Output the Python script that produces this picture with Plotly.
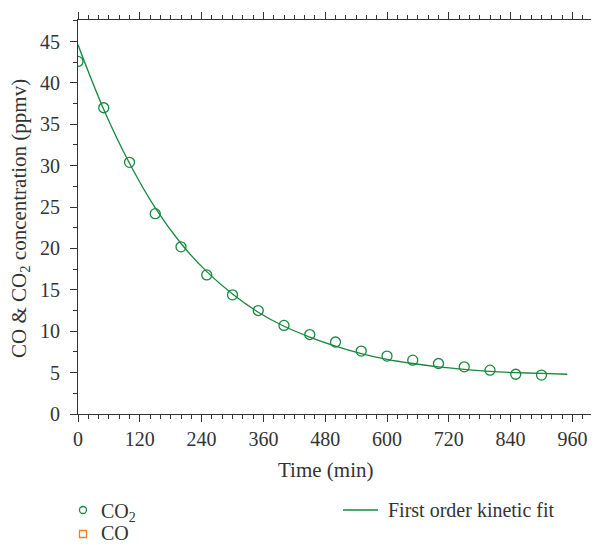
import plotly.graph_objects as go

# Measured data (CO2)
time_pts = [0, 50, 100, 150, 200, 250, 300, 350, 400, 450, 500, 550, 600, 650, 700, 750, 800, 850, 900]
co2_vals = [42.6, 37.0, 30.4, 24.2, 20.2, 16.8, 14.4, 12.5, 10.7, 9.6, 8.7, 7.6, 7.0, 6.5, 6.1, 5.7, 5.3, 4.8, 4.7]

# CO series (no visible data in the chart)
co_time = [None]
co_vals = [None]

# First order kinetic fit curve
fit_time = [0, 50, 100, 150, 200, 250, 300, 350, 400, 450, 500, 550, 600, 650, 700, 750, 800, 850, 900, 950]
fit_vals = [44.6, 36.8, 30.3, 24.9, 20.6, 17.2, 14.5, 12.3, 10.6, 9.3, 8.2, 7.3, 6.6, 6.1, 5.7, 5.4, 5.15, 5.0, 4.9, 4.8]

x_ticks = [0, 120, 240, 360, 480, 600, 720, 840, 960]
y_ticks = [0, 5, 10, 15, 20, 25, 30, 35, 40, 45]

series_names = ["CO<sub>2</sub>", "CO", "First order kinetic fit"]

GREEN = "#17893f"
ORANGE = "#f07f22"
AX = "#333333"
FONT = "Liberation Serif"
FS = 20
FT = 21
FL = 20

# figure geometry (the page body adds an 8px margin around the figure)
W, H = 591, 538
ML, MR, MT, MB = 70, 6, 12, 132
PW, PH = W - ML - MR, H - MT - MB


def px(fx):
    return (fx - ML) / PW


def py(fy):
    return (H - MB - fy) / PH


fig = go.Figure()
fig.add_trace(go.Scatter(
    x=fit_time, y=fit_vals, mode="lines", line=dict(color=GREEN, width=1.3, shape="spline"),
    name=series_names[2], showlegend=False))
fig.add_trace(go.Scatter(
    x=time_pts, y=co2_vals, mode="markers",
    marker=dict(symbol="circle-open", size=10, color=GREEN, line=dict(width=1.3, color=GREEN)),
    name=series_names[0], showlegend=False))
fig.add_trace(go.Scatter(
    x=co_time, y=co_vals, mode="markers",
    marker=dict(symbol="square-open", size=9, color=ORANGE, line=dict(width=1.3, color=ORANGE)),
    name=series_names[1], showlegend=False))

axis_common = dict(
    showgrid=False, zeroline=False, showline=True, linecolor=AX, linewidth=1,
    mirror="ticks", ticks="outside", ticklen=7, tickcolor=AX, tickwidth=1,
    tickfont=dict(family=FONT, size=FS, color=AX), automargin=False,
)

fig.update_xaxes(
    range=[0, 1000], tickvals=x_ticks, ticktext=[str(v) for v in x_ticks],
    minor=dict(dtick=20, tick0=0, ticklen=4, ticks="outside", tickcolor=AX, tickwidth=1),
    ticklabelstandoff=0,
    **axis_common)
fig.update_yaxes(
    range=[0, 47.6], tickvals=y_ticks, ticktext=[str(v) for v in y_ticks],
    minor=dict(dtick=2.5, tick0=0, ticklen=4, ticks="outside", tickcolor=AX, tickwidth=1),
    ticklabelstandoff=6,
    **axis_common)

# axis titles
fig.add_annotation(text="Time (min)", xref="paper", yref="paper", x=0.48, y=py(462),
                   xanchor="center", yanchor="middle", showarrow=False,
                   font=dict(family=FONT, size=FT, color=AX))
fig.add_annotation(text="CO & CO<sub>2</sub> concentration (ppmv)", xref="paper", yref="paper",
                   x=px(12), y=0.495, xanchor="center", yanchor="middle", textangle=-90,
                   showarrow=False, font=dict(family=FONT, size=FT, color=AX))

# legend (drawn manually so it does not push the margins)
row1, row2 = 502, 525
fig.add_shape(type="circle", xref="paper", yref="paper", xsizemode="pixel", ysizemode="pixel",
              xanchor=px(75), yanchor=py(row1), x0=-3.5, x1=3.5, y0=-3.5, y1=3.5,
              line=dict(color=GREEN, width=1.3))
fig.add_shape(type="rect", xref="paper", yref="paper", xsizemode="pixel", ysizemode="pixel",
              xanchor=px(75), yanchor=py(row2 + 1), x0=-3.5, x1=3.5, y0=-3.5, y1=3.5,
              line=dict(color=ORANGE, width=1.3))
fig.add_shape(type="line", xref="paper", yref="paper", x0=px(335), x1=px(370),
              y0=py(row1), y1=py(row1), line=dict(color=GREEN, width=1.3))
for name, fx, fy in [(series_names[0], 91, row1 + 2), (series_names[1], 91, row2),
                     (series_names[2], 378, row1)]:
    fig.add_annotation(text=name, xref="paper", yref="paper", x=px(fx), y=py(fy),
                       xanchor="left", yanchor="middle", showarrow=False,
                       font=dict(family=FONT, size=FL, color=AX))

fig.update_layout(
    width=W, height=H,
    margin=dict(l=ML, r=MR, t=MT, b=MB),
    plot_bgcolor="white", paper_bgcolor="white",
    font=dict(family=FONT, size=FS, color=AX),
    showlegend=False,
)

fig.write_html("out.html")
